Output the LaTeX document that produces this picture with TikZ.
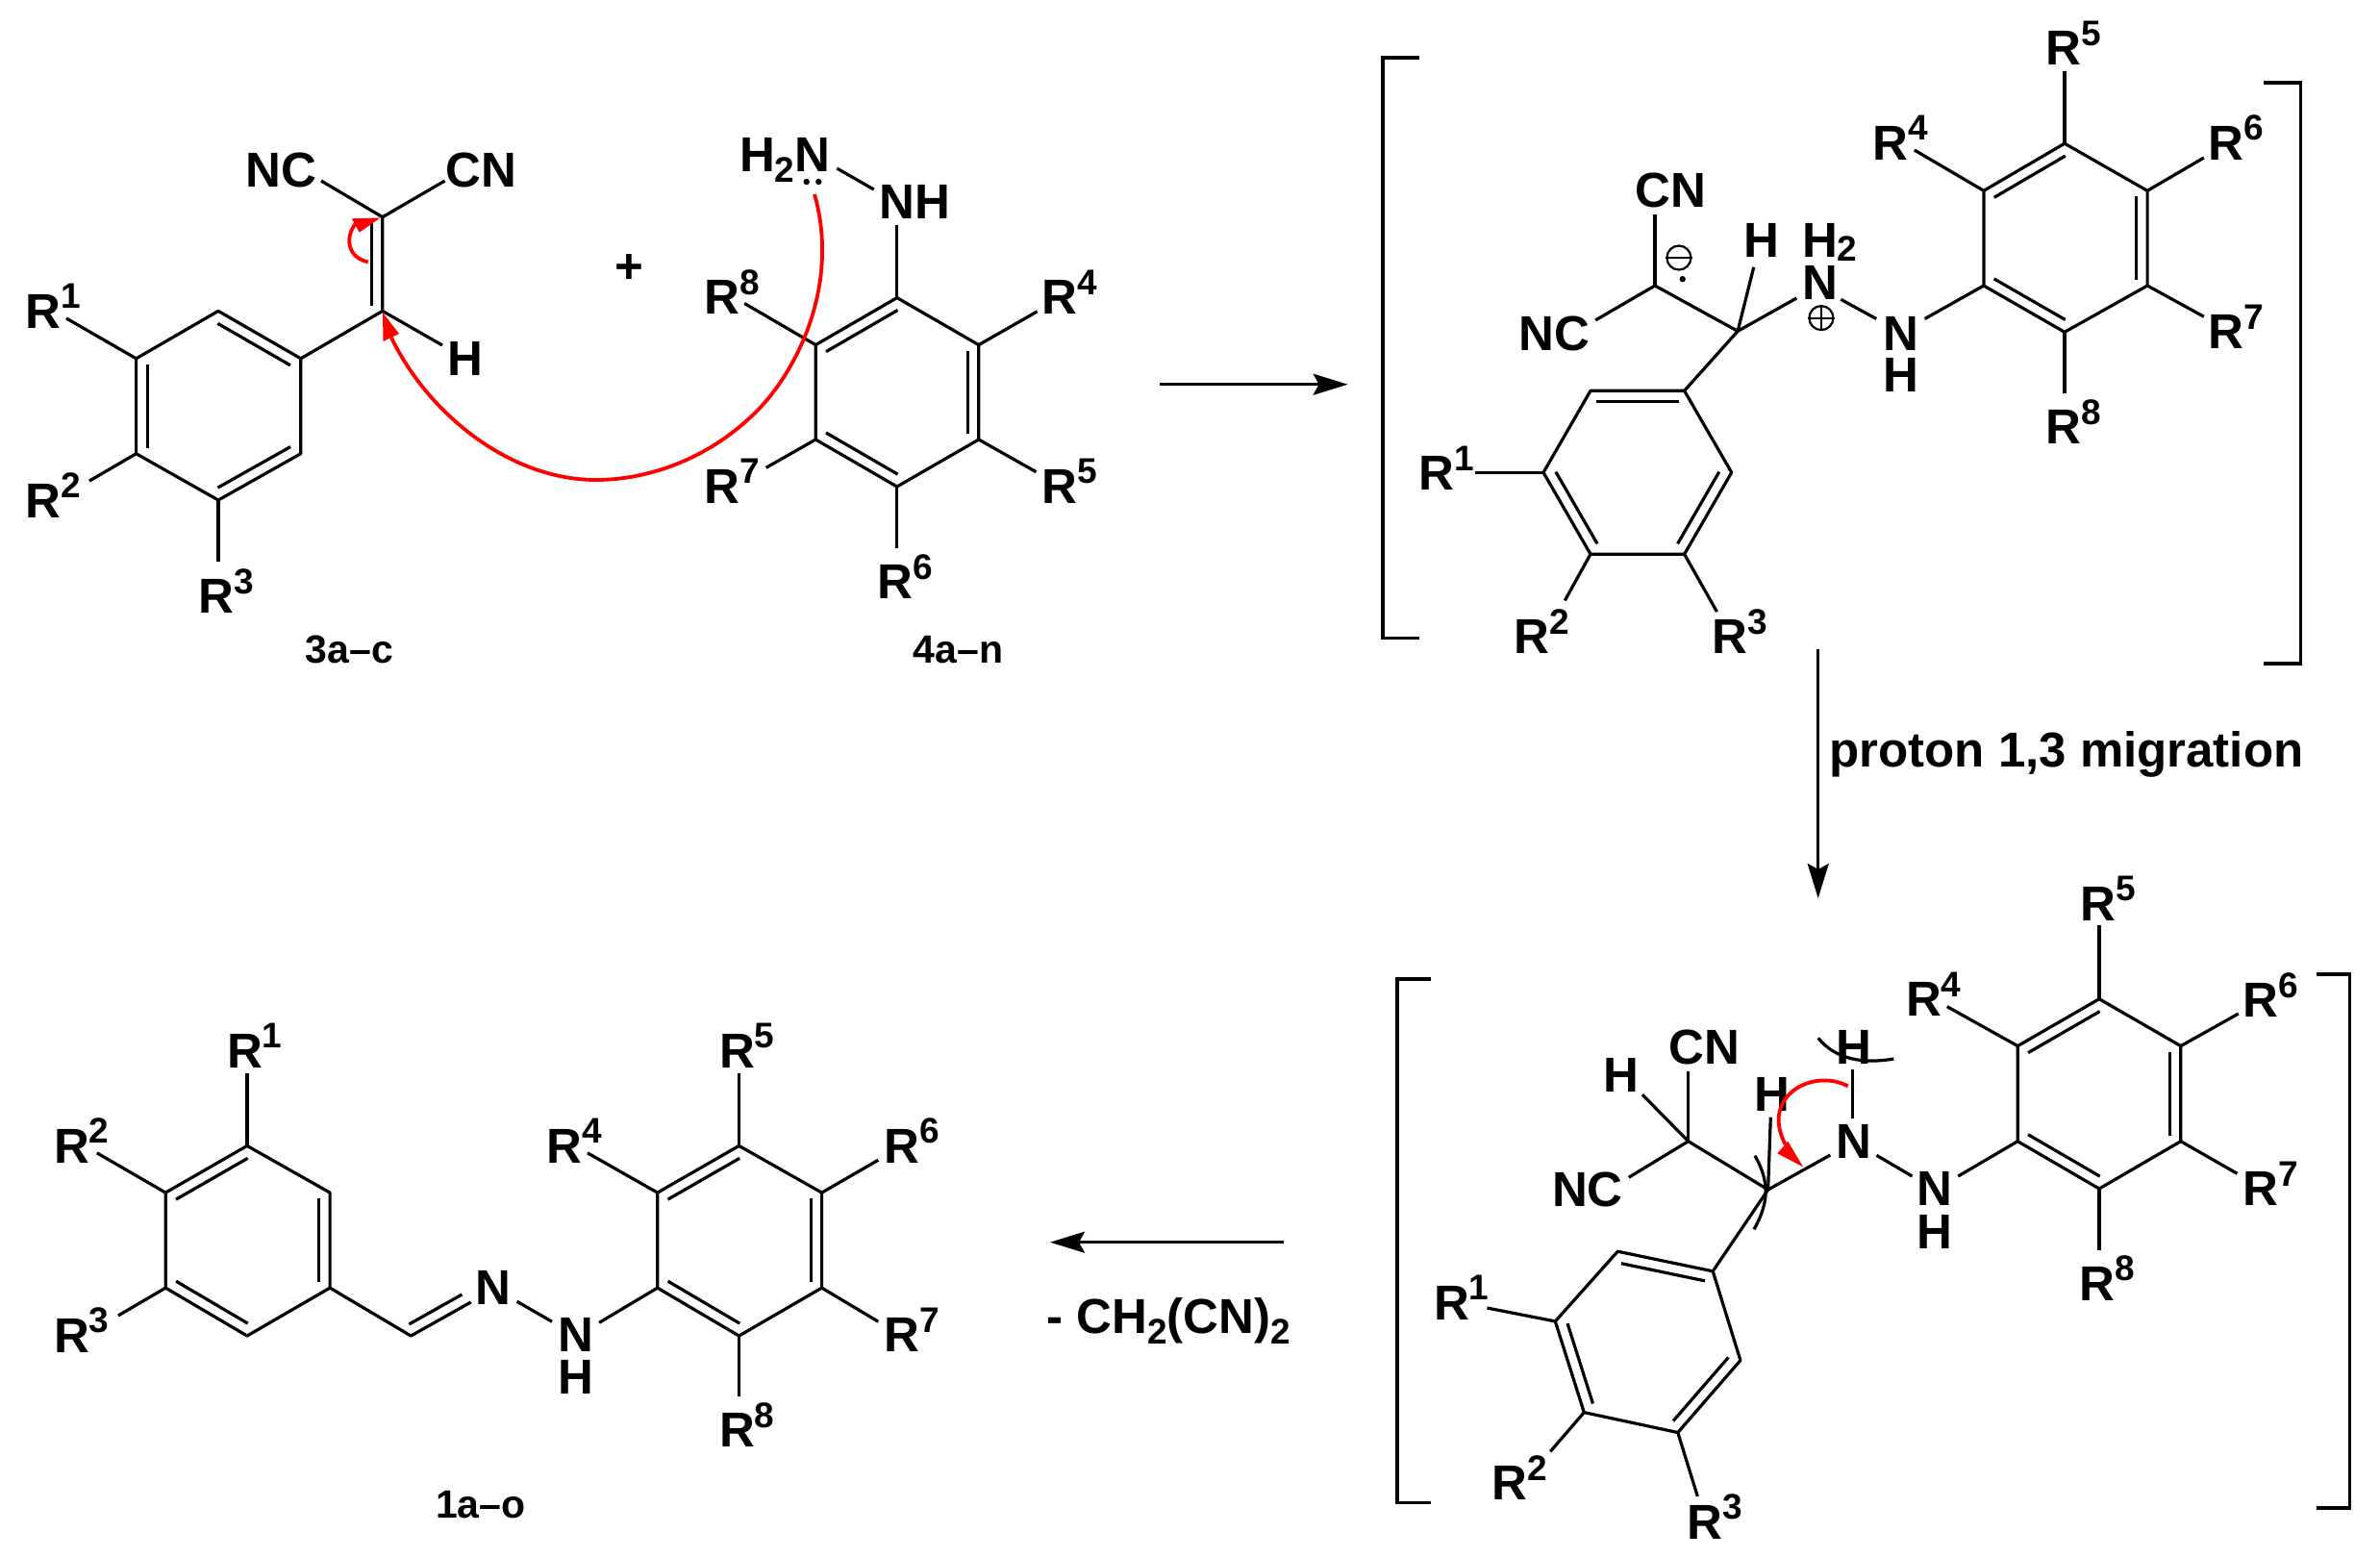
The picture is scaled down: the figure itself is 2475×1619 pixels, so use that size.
\documentclass[tikz,border=0pt]{standalone}
\usepackage{fontspec}
\setmainfont{Liberation Sans}
\usetikzlibrary{calc,arrows.meta}
\tikzset{
  bond/.style={line width=1.6pt,line join=round},
  brack/.style={line width=1.8pt,line join=miter},
  redarc/.style={line width=1.9pt,color=red},
  redhead/.style={fill=red,draw=none},
  rxn/.style={line width=1.4pt,-{Stealth[length=18pt,width=11pt,inset=3pt]}},
  lbl/.style={anchor=base west,inner sep=0pt,xshift=-1.8pt,font=\fontsize{25.5}{25.5}\selectfont\bfseries},
  captxt/.style={anchor=base west,inner sep=0pt,font=\fontsize{20.5}{20.5}\selectfont\bfseries},
  chg/.style={circle,draw,line width=1.1pt,inner sep=0pt,minimum size=12.5pt},
  chgbar/.style={line width=1.1pt},
  lp/.style={circle,fill=black,inner sep=0pt,minimum size=3.2pt}
}
\newcommand\supd[1]{\raisebox{10.2pt}{\fontsize{18.5}{18.5}\selectfont #1}}
\newcommand\subd[1]{\raisebox{-5.5pt}{\fontsize{18.5}{18.5}\selectfont #1}}
\newcommand\Rl[4]{\node[lbl] (#1) at (#2,#3) {R\supd{#4}};}
\newcommand\inb[2]{\draw[bond] ($(#1)!.06!(#2)!5.75pt!-90:(#2)$) -- ($(#2)!.06!(#1)!5.75pt!90:(#1)$);}
\newcommand\inbl[2]{\draw[bond] ($(#1)!.06!(#2)!5.75pt!90:(#2)$) -- ($(#2)!.06!(#1)!5.75pt!-90:(#1)$);}
\newcommand\hexring[7]{%
  \coordinate (#11) at #2; \coordinate (#12) at #3; \coordinate (#13) at #4;
  \coordinate (#14) at #5; \coordinate (#15) at #6; \coordinate (#16) at #7;
  \draw[bond] (#11)--(#12)--(#13)--(#14)--(#15)--(#16)--cycle;}
\newcommand\subst[3]{\coordinate (#1e) at #2; \draw[bond] (#1e) -- (#3);}
\begin{document}
\begin{tikzpicture}[x=0.5pt,y=-0.5pt]
\useasboundingbox (0,0) rectangle (2475,1619);
% ---------- 3a-c
\hexring{A}{(227,323.4)}{(312.8,372.8)}{(312.8,471.7)}{(227,520)}{(141.6,471.7)}{(141.6,372.8)}
\inb{A1}{A2}\inb{A3}{A4}\inb{A5}{A6}
\coordinate (Av) at (397.8,323.4); \coordinate (Aw) at (397.8,225.7);
\draw[bond] (A2)--(Av)--(Aw); \inbl{Av}{Aw}
\subst{Anc}{(334,188)}{Aw} \subst{Acn}{(462.6,188)}{Aw} \subst{Ah}{(460,359)}{Av}
\subst{Ar1}{(69,331)}{A6} \subst{Ar2}{(92.9,500.1)}{A5} \subst{Ar3}{(227,584.4)}{A4}
\node[lbl] (ANC) at (259,194) {NC}; \node[lbl] (ACN) at (466.6,194) {CN};
\node[lbl] (AH) at (469,390.6) {H};
\Rl{AR1}{30}{341}{1}\Rl{AR2}{30}{538}{2}\Rl{AR3}{209.6}{637.8}{3}
\node[captxt] (Acap) at (317.5,689) {3a–c};
% ---------- plus
\node[inner sep=0pt,font=\fontsize{25.5}{25.5}\selectfont\bfseries] (plus) at (654.8,280) {+};
% ---------- 4a-n
\hexring{B}{(932.8,309.6)}{(1017.8,358.6)}{(1017.8,457)}{(932.8,506)}{(848.2,457)}{(848.2,358.6)}
\inb{B6}{B1}\inb{B2}{B3}\inb{B4}{B5}
\subst{Bn}{(932.8,233.6)}{B1}
\coordinate (Bnn1) at (870.3,175); \coordinate (Bnn2) at (908.7,197); \draw[bond] (Bnn1)--(Bnn2);
\subst{Br8}{(774.2,315.5)}{B6} \subst{Br7}{(796.7,486.3)}{B5} \subst{Br4}{(1078.7,323.8)}{B2}
\subst{Br5}{(1077.5,490.7)}{B3} \subst{Br6}{(932.8,569.8)}{B4}
\node[lbl] (BNH) at (917.4,227.7) {NH};
\node[lbl] (BH2N) at (772.2,178.3) {H\subd{2}N};
\node[lp] (Blp1) at (838.7,189) {}; \node[lp] (Blp2) at (851.3,189) {};
\Rl{BR8}{735.5}{326.6}{8}\Rl{BR7}{735.5}{523}{7}\Rl{BR4}{1086.6}{326.6}{4}\Rl{BR5}{1086.6}{523}{5}\Rl{BR6}{915.8}{622.7}{6}
\node[captxt] (Bcap) at (949.4,689) {4a–n};
% red arrows, top left
\coordinate (ra0) at (847,202); \coordinate (ra1) at (778,436); \coordinate (ra2) at (620,499); \coordinate (ra3) at (407,351);
\coordinate (ratip) at (398,325); \coordinate (rab1) at (398.5,355); \coordinate (rab2) at (415,347);
\draw[redarc] (ra0) .. controls (875,300) and (825,395) .. (ra1) .. controls (730,480) and (670,499) .. (ra2) .. controls (530,499) and (445,430) .. (ra3);
\fill[redhead] (ratip)--(rab1)--(rab2)--cycle;
\coordinate (rb0) at (382.8,272.4); \coordinate (rb1) at (369.7,232.5); \coordinate (rbtip) at (395.4,226.5);
\coordinate (rbb1) at (365.8,227.3); \coordinate (rbb2) at (373.7,241.6);
\draw[redarc] (rb0) .. controls (362,268) and (358,248) .. (rb1);
\fill[redhead] (rbtip)--(rbb1)--(rbb2)--cycle;
% ---------- reaction arrows
\coordinate (x1a) at (1206,399.7); \coordinate (x1b) at (1401.6,399.7); \draw[rxn] (x1a)--(x1b);
\coordinate (x2a) at (1890.7,675); \coordinate (x2b) at (1890.7,934); \draw[rxn] (x2a)--(x2b);
\coordinate (x3a) at (1335,1291.7); \coordinate (x3b) at (1092,1291.7); \draw[rxn] (x3a)--(x3b);
\node[lbl,xshift=1.8pt] (mig) at (1902,797) {proton 1,3 migration};
\node[lbl,xshift=1.8pt] (loss) at (1088,1386.7) {- CH\subd{2}(CN)\subd{2}};
% ---------- top-right intermediate
\coordinate (bl1) at (1476,59.7); \coordinate (bl2) at (1437.9,59.7); \coordinate (bl3) at (1437.9,663.5); \coordinate (bl4) at (1476,663.5);
\draw[brack] (bl1)--(bl2)--(bl3)--(bl4);
\coordinate (br1) at (2354.3,85.9); \coordinate (br2) at (2392.6,85.9); \coordinate (br3) at (2392.6,690); \coordinate (br4) at (2354.3,690);
\draw[brack] (br1)--(br2)--(br3)--(br4);
\hexring{C}{(2147,149.2)}{(2233.1,198.3)}{(2233.1,297)}{(2147,345.3)}{(2062.9,297)}{(2062.9,198.3)}
\inb{C6}{C1}\inb{C2}{C3}\inb{C4}{C5}
\subst{Cr5}{(2147,73.5)}{C1} \subst{Cr4}{(1990.8,156)}{C6} \subst{Cr6}{(2291.8,164)}{C2}
\subst{Cr7}{(2291.8,329.2)}{C3} \subst{Cr8}{(2147,408.6)}{C4} \subst{Cnh}{(2001.6,331.5)}{C5}
\Rl{CR5}{2131}{67.5}{5}\Rl{CR4}{1950.6}{166.2}{4}\Rl{CR6}{2300}{166.2}{6}\Rl{CR7}{2300}{362.7}{7}\Rl{CR8}{2131}{461.4}{8}
\node[lbl] (CN1) at (1962,364) {N}; \node[lbl] (CH1) at (1962,407) {H};
\node[lbl] (CN2) at (1877.3,311.3) {N}; \node[lbl] (CH2) at (1877.3,267.7) {H\raisebox{-1.7pt}{\fontsize{18.5}{18.5}\selectfont 2}};
\node[chg] (plusq) at (1893.9,330.6) {}; \draw[chgbar] (plusq.west)--(plusq.east) (plusq.north)--(plusq.south);
\coordinate (Cnn1) at (1914.3,311.3); \coordinate (Cnn2) at (1951.2,331.5); \draw[bond] (Cnn1)--(Cnn2);
\coordinate (Cc) at (1807.1,344.3); \coordinate (Ca) at (1721,297);
\draw[bond] (Ca)--(Cc);
\subst{Cn2}{(1868.3,310)}{Cc} \subst{Chh}{(1823.7,277.8)}{Cc}
\subst{Ccn}{(1721,222.7)}{Ca} \subst{Cnc}{(1659.2,332.9)}{Ca}
\node[lbl] (CH3) at (1816.7,267.7) {H}; \node[lbl] (CCN) at (1703.8,215.8) {CN}; \node[lbl] (CNC) at (1582.6,364) {NC};
\node[chg] (minq) at (1745.9,268) {}; \draw[chgbar] (minq.west)--(minq.east);
\node[lp] (Clp) at (1749.7,290.2) {};
\hexring{D}{(1751.6,406.3)}{(1800.7,491.3)}{(1751.6,576.2)}{(1654,576.2)}{(1605,491.3)}{(1654,406.3)}
\inb{D6}{D1}\inb{D2}{D3}\inb{D4}{D5}
\draw[bond] (Cc)--(D1);
\subst{Dr1}{(1533.5,491.3)}{D5} \subst{Dr2}{(1627.3,624.4)}{D4} \subst{Dr3}{(1785.4,636)}{D3}
\Rl{DR1}{1478.7}{509.6}{1}\Rl{DR2}{1577.5}{679.5}{2}\Rl{DR3}{1783.5}{679.5}{3}
% ---------- bottom-right intermediate
\coordinate (cl1) at (1487.8,1017.8); \coordinate (cl2) at (1452.8,1017.8); \coordinate (cl3) at (1452.8,1562.6); \coordinate (cl4) at (1487.8,1562.6);
\draw[brack] (cl1)--(cl2)--(cl3)--(cl4);
\coordinate (cr1) at (2409.4,1013); \coordinate (cr2) at (2443.5,1013); \coordinate (cr3) at (2443.5,1567.7); \coordinate (cr4) at (2409.4,1567.7);
\draw[brack] (cr1)--(cr2)--(cr3)--(cr4);
\hexring{E}{(2183,1038.7)}{(2267.8,1087.6)}{(2267.8,1186.7)}{(2183,1236)}{(2098.2,1186.7)}{(2098.2,1087.6)}
\inb{E6}{E1}\inb{E2}{E3}\inb{E4}{E5}
\subst{Er5}{(2183,962)}{E1} \subst{Er4}{(2024.8,1046.6)}{E6} \subst{Er6}{(2327.8,1054)}{E2}
\subst{Er7}{(2326.5,1220.3)}{E3} \subst{Er8}{(2183,1300)}{E4} \subst{Enh}{(2036.3,1223)}{E5}
\Rl{ER5}{2167}{957}{5}\Rl{ER4}{1985.3}{1056.5}{4}\Rl{ER6}{2336}{1057.6}{6}\Rl{ER7}{2336}{1253.8}{7}\Rl{ER8}{2165.8}{1352}{8}
\node[lbl] (EN1) at (1996.8,1253.8) {N}; \node[lbl] (EH1) at (1996.8,1298) {H};
\node[lbl] (EN2) at (1912.3,1204.3) {N}; \node[lbl] (EH2) at (1912.3,1106.7) {H};
\coordinate (Enn1) at (1951.5,1201.3); \coordinate (Enn2) at (1988.5,1223); \draw[bond] (Enn1)--(Enn2);
\coordinate (Ehn1) at (1926.7,1112.3); \coordinate (Ehn2) at (1926.7,1163.3); \draw[bond] (Ehn1)--(Ehn2);
\coordinate (Ec) at (1838.6,1237); \coordinate (Ea) at (1755.7,1186.7);
\draw[bond] (Ea)--(Ec);
\subst{En2}{(1903.3,1201)}{Ec} \subst{Ehh}{(1841.3,1161.7)}{Ec}
\subst{Ecn}{(1755.7,1113.7)}{Ea} \subst{Eh3}{(1707.9,1138.2)}{Ea} \subst{Enc}{(1693.8,1224.2)}{Ea}
\node[lbl] (EH3) at (1827.3,1155) {H}; \node[lbl] (ECN) at (1738.5,1106.6) {CN};
\node[lbl] (EH4) at (1670.9,1135.4) {H}; \node[lbl] (ENC) at (1617.3,1254.6) {NC};
% steric arcs
\coordinate (ea1) at (1890.7,1079.3); \coordinate (ea2) at (1969.3,1101);
\draw[bond] (ea1) .. controls (1910,1103) and (1940,1106) .. (ea2);
\coordinate (eb1) at (1825,1201.7); \coordinate (eb2) at (1824,1278.3);
\draw[bond] (eb1) .. controls (1840,1228) and (1840,1250) .. (eb2);
% red arrow
\coordinate (rc0) at (1921.7,1129.3); \coordinate (rc1) at (1856.7,1190); \coordinate (rctip) at (1875,1213.3);
\coordinate (rcb1) at (1848.3,1199.3); \coordinate (rcb2) at (1859.3,1186.7);
\draw[redarc] (rc0) .. controls (1885,1110) and (1830,1140) .. (rc1);
\fill[redhead] (rctip)--(rcb1)--(rcb2)--cycle;
\hexring{F}{(1781.2,1321.8)}{(1809.9,1414.5)}{(1744.8,1489.5)}{(1647.3,1468.6)}{(1617.3,1373.9)}{(1682.3,1301.2)}
\inb{F6}{F1}\inb{F2}{F3}\inb{F4}{F5}
\draw[bond] (Ec)--(F1);
\subst{Fr1}{(1546.5,1360)}{F5} \subst{Fr2}{(1612.2,1509.3)}{F4} \subst{Fr3}{(1765.3,1555.9)}{F3}
\Rl{FR1}{1494.2}{1372.3}{1}\Rl{FR2}{1554.8}{1559.4}{2}\Rl{FR3}{1757.6}{1600}{3}
% ---------- 1a-o
\hexring{G}{(257,1191.4)}{(343.1,1240.1)}{(343.1,1339.1)}{(257,1389)}{(172.2,1339.1)}{(172.2,1240.1)}
\inb{G6}{G1}\inb{G2}{G3}\inb{G4}{G5}
\subst{Gr1}{(257,1115.7)}{G1} \subst{Gr2}{(100.8,1198.8)}{G6} \subst{Gr3}{(123,1367.9)}{G5}
\Rl{GR1}{239.2}{1110.2}{1}\Rl{GR2}{59.3}{1209.1}{2}\Rl{GR3}{59.3}{1406.3}{3}
\coordinate (Gc) at (427.3,1389); \coordinate (Gn) at (489.8,1353.9);
\draw[bond] (G3)--(Gc)--(Gn); \inbl{Gc}{Gn}
\node[lbl] (GN1) at (497.4,1356.5) {N}; \node[lbl] (GN2) at (583.5,1405.6) {N}; \node[lbl] (GH) at (583.5,1449.9) {H};
\coordinate (Gnn1) at (537.6,1353.2); \coordinate (Gnn2) at (574,1374.2); \draw[bond] (Gnn1)--(Gnn2);
\hexring{H}{(768.5,1191.4)}{(854.6,1240.1)}{(854.6,1339.1)}{(768.5,1389)}{(683.7,1339.1)}{(683.7,1240.1)}
\inb{H6}{H1}\inb{H2}{H3}\inb{H4}{H5}
\subst{Hn}{(623.1,1375.3)}{H5}
\subst{Hr5}{(768.5,1115.7)}{H1} \subst{Hr4}{(611,1198.8)}{H6} \subst{Hr6}{(913.3,1206.2)}{H2}
\subst{Hr7}{(913.3,1374.2)}{H3} \subst{Hr8}{(768.5,1451.7)}{H4}
\Rl{HR5}{751.3}{1110.2}{5}\Rl{HR4}{572}{1209.1}{4}\Rl{HR6}{922.8}{1209.1}{6}\Rl{HR7}{922.8}{1405.6}{7}\Rl{HR8}{751.3}{1504.6}{8}
\node[captxt] (Gcap) at (452.8,1578.4) {1a–o};
\end{tikzpicture}
\end{document}
